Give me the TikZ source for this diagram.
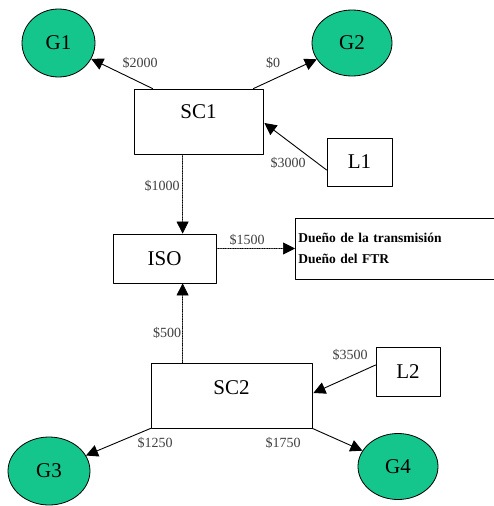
\documentclass[tikz,border=0pt]{standalone}
\usepackage{fontspec}
\setmainfont{Liberation Serif}
\usepackage{tikz}
\usetikzlibrary{arrows.meta, positioning, calc, shapes.geometric}

\definecolor{gen}{RGB}{20,198,140}

\begin{document}
\begin{tikzpicture}[x=1pt, y=-1pt, line cap=round, line join=round,
    wire/.style={line width=0.9pt},
    flow/.style={wire, -{Triangle[length=12pt, width=12pt]}},
    dotflow/.style={line width=0.7pt, densely dotted, -{Triangle[length=12pt, width=12pt]}},
    genr/.style={ellipse, draw, line width=0.8pt, fill=gen, inner sep=0pt, font=\fontsize{21}{24}\selectfont},
    box/.style={rectangle, draw, line width=0.8pt, inner sep=0pt, font=\fontsize{21}{24}\selectfont},
    lbl/.style={font=\fontsize{14}{16}\selectfont, text=black!75}]
  \useasboundingbox (0,0) rectangle (493,506);
  % ================= generators =================
  \node[genr, minimum width=73pt, minimum height=68pt] (g1) at (58.5,43) {G1};
  \node[genr, minimum width=80pt, minimum height=66pt] (g2) at (352,43) {G2};
  \node[genr, minimum width=82pt, minimum height=68pt] (g3) at (49,471) {G3};
  \node[genr, minimum width=80pt, minimum height=66pt] (g4) at (398,466.5) {G4};
  % ================= coordinators and loads =================
  \node[box, minimum width=129pt, minimum height=65pt] (sc1) at (198.5,121.5) {};
  \node[font=\fontsize{21}{24}\selectfont] at (198.5,112) {SC1};
  \node[box, minimum width=65pt, minimum height=48pt] (l1) at (359.5,162) {L1};
  \node[box, minimum width=103pt, minimum height=49pt] (iso) at (164.5,258.5) {ISO};
  \node[box, minimum width=200pt, minimum height=61pt, anchor=west,
        align=left, font=\bfseries\fontsize{13.5}{21}\selectfont,
        text width=194pt, inner xsep=3pt] (own) at (295,248.5)
        {Dueño de la transmisión\\Dueño del FTR};
  \node[box, minimum width=161pt, minimum height=65pt] (sc2) at (231.5,395.5) {};
  \node[font=\fontsize{21}{24}\selectfont] at (231.5,388) {SC2};
  \node[box, minimum width=64pt, minimum height=49pt] (l2) at (408,371.5) {L2};
  % ================= payments =================
  \draw[flow] ($(sc1.north west)+(19,0)$) -- (g1);
  \draw[flow] ($(sc1.north east)+(-10,0)$) -- (g2);
  \draw[flow] ($(l1.west)+(0,8)$) -- ($(sc1.east)+(1,1.5)$);
  \coordinate (s1) at ($(sc1.south west)+(49,0)$);
  \draw[dotflow] (s1) -- (s1 |- iso.north);
  \draw[dotflow] (iso.east |- own.west) -- (own.west);
  \coordinate (s2) at ($(sc2.north west)+(32,0)$);
  \draw[dotflow] (s2) -- (s2 |- iso.south);
  \draw[flow] ($(l2.west)+(0,-6.5)$) -- ($(sc2.east)+(1,-2.5)$);
  \draw[flow] (sc2.south west) -- (g3);
  \draw[flow] (sc2.south east) -- (g4);
  % ================= labels =================
  \node[lbl] at (140,63) {\$2000};
  \node[lbl] at (273,63) {\$0};
  \node[lbl] at (288,163) {\$3000};
  \node[lbl] at (162,186) {\$1000};
  \node[lbl] at (247,240) {\$1500};
  \node[lbl] at (167,333) {\$500};
  \node[lbl] at (350,355) {\$3500};
  \node[lbl] at (155,443) {\$1250};
  \node[lbl] at (283,443) {\$1750};
\end{tikzpicture}
\end{document}
